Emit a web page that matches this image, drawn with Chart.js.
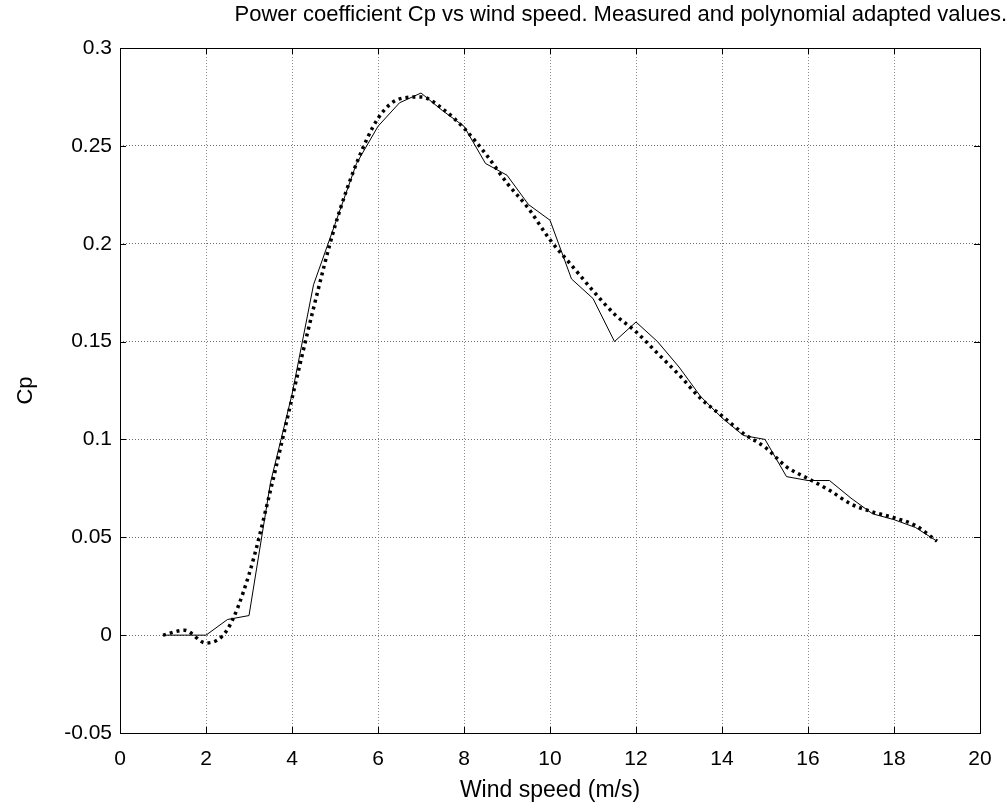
<!DOCTYPE html>
<html>
<head>
<meta charset="utf-8">
<title>Power coefficient Cp vs wind speed</title>
<script src="https://cdn.jsdelivr.net/npm/chart.js@4.4.1/dist/chart.umd.min.js"></script>
<style>
  html, body { margin: 0; padding: 0; background: #fff; }
  #wrap { width: 1007px; height: 808px; }
</style>
</head>
<body>
<div id="wrap"><canvas id="cpChart" width="1007" height="808"></canvas></div>
<script>
// wind speed samples (m/s)
const windSpeed = [1, 1.5, 2, 2.5, 3, 3.5, 4, 4.5, 5, 5.5, 6, 6.5, 7, 7.5, 8, 8.5, 9, 9.5, 10,
                   10.5, 11, 11.5, 12, 12.5, 13, 13.5, 14, 14.5, 15, 15.5, 16, 16.5, 17, 17.5, 18, 18.5, 19];

// measured Cp (solid line)
const cpMeasured = [0, 0, 0, 0.008, 0.010, 0.078, 0.123, 0.179, 0.210, 0.241, 0.260, 0.272, 0.277, 0.268,
                    0.260, 0.241, 0.235, 0.220, 0.212, 0.182, 0.172, 0.150, 0.160, 0.150, 0.137, 0.122,
                    0.111, 0.102, 0.100, 0.081, 0.079, 0.079, 0.070, 0.062, 0.059, 0.055, 0.048];

// polynomial adapted Cp (dotted line)
const cpPoly = [0, 0.0025, -0.004, 0.003, 0.031, 0.074, 0.121, 0.167, 0.209, 0.241, 0.264, 0.274, 0.275, 0.269,
                0.259, 0.246, 0.231, 0.218, 0.202, 0.189, 0.176, 0.164, 0.155, 0.144, 0.133, 0.121,
                0.112, 0.103, 0.096, 0.086, 0.080, 0.074, 0.067, 0.063, 0.060, 0.056, 0.048];

const xTicks = [0, 2, 4, 6, 8, 10, 12, 14, 16, 18, 20];
const yTicks = [-0.05, 0, 0.05, 0.1, 0.15, 0.2, 0.25, 0.3];

const FONT = "'Liberation Sans', Arial, sans-serif";

function toPoints(xs, ys) {
    return xs.map((x, i) => ({ x: x, y: ys[i] }));
}

// MATLAB style box with inward tick marks on all four sides
const boxPlugin = {
    id: 'matlabBox',
    afterDraw(chart) {
        const { ctx, chartArea: a, scales } = chart;
        const len = 6;
        ctx.save();
        ctx.strokeStyle = '#000';
        ctx.lineWidth = 1;
        ctx.beginPath();
        xTicks.forEach(v => {
            const px = Math.round(scales.x.getPixelForValue(v)) + 0.5;
            ctx.moveTo(px, a.bottom); ctx.lineTo(px, a.bottom - len);
            ctx.moveTo(px, a.top); ctx.lineTo(px, a.top + len);
        });
        yTicks.forEach(v => {
            const py = Math.round(scales.y.getPixelForValue(v)) + 0.5;
            ctx.moveTo(a.left, py); ctx.lineTo(a.left + len, py);
            ctx.moveTo(a.right, py); ctx.lineTo(a.right - len, py);
        });
        ctx.stroke();
        ctx.strokeRect(Math.round(a.left) + 0.5, Math.round(a.top) + 0.5,
                       Math.round(a.right - a.left), Math.round(a.bottom - a.top));
        ctx.restore();
    }
};

const ctx = document.getElementById('cpChart').getContext('2d');
new Chart(ctx, {
    type: 'line',
    data: {
        datasets: [{
            label: 'Measured',
            data: toPoints(windSpeed, cpMeasured),
            borderColor: '#000',
            borderWidth: 1,
            pointRadius: 0,
            tension: 0,
            fill: false
        }, {
            label: 'Polynomial',
            data: toPoints(windSpeed, cpPoly),
            borderColor: '#000',
            borderWidth: 3.5,
            borderDash: [3, 4],
            borderCapStyle: 'butt',
            pointRadius: 0,
            cubicInterpolationMode: 'monotone',
            fill: false
        }]
    },
    options: {
        responsive: false,
        animation: false,
        layout: { padding: { left: 0, right: 0, top: 0, bottom: 0 } },
        plugins: {
            legend: { display: false },
            tooltip: { enabled: false },
            title: {
                display: true,
                text: 'Power coefficient Cp vs wind speed. Measured and polynomial adapted values.',
                align: 'end',
                color: '#000',
                font: { family: FONT, size: 22, weight: 'normal' },
                padding: { top: 2, bottom: 19.6 }
            }
        },
        scales: {
            x: {
                type: 'linear',
                min: 0,
                max: 20,
                afterBuildTicks(scale) { scale.ticks = xTicks.map(v => ({ value: v })); },
                afterFit(scale) { scale.height = 75; scale.paddingRight = 27; },
                ticks: {
                    color: '#000',
                    font: { family: FONT, size: 21 },
                    padding: 14,
                    maxRotation: 0,
                    callback: v => String(v)
                },
                grid: { color: '#8c8c8c', lineWidth: 1, drawTicks: false },
                border: { display: false, dash: [1, 2] },
                title: {
                    display: true,
                    text: 'Wind speed (m/s)',
                    color: '#000',
                    font: { family: FONT, size: 23 },
                    padding: { top: 2, bottom: 4 }
                }
            },
            y: {
                type: 'linear',
                min: -0.05,
                max: 0.3,
                afterBuildTicks(scale) { scale.ticks = yTicks.map(v => ({ value: v })); },
                afterFit(scale) { scale.width = 120; },
                ticks: {
                    color: '#000',
                    font: { family: FONT, size: 21 },
                    padding: 8,
                    callback: v => String(Number(v.toFixed(2)))
                },
                grid: { color: '#6e6e6e', lineWidth: 1, drawTicks: false },
                border: { display: false, dash: [1, 2] },
                title: {
                    display: true,
                    text: 'Cp',
                    color: '#000',
                    font: { family: FONT, size: 22 },
                    padding: { top: 13, bottom: 0 }
                }
            }
        }
    },
    plugins: [boxPlugin]
});
</script>
</body>
</html>
